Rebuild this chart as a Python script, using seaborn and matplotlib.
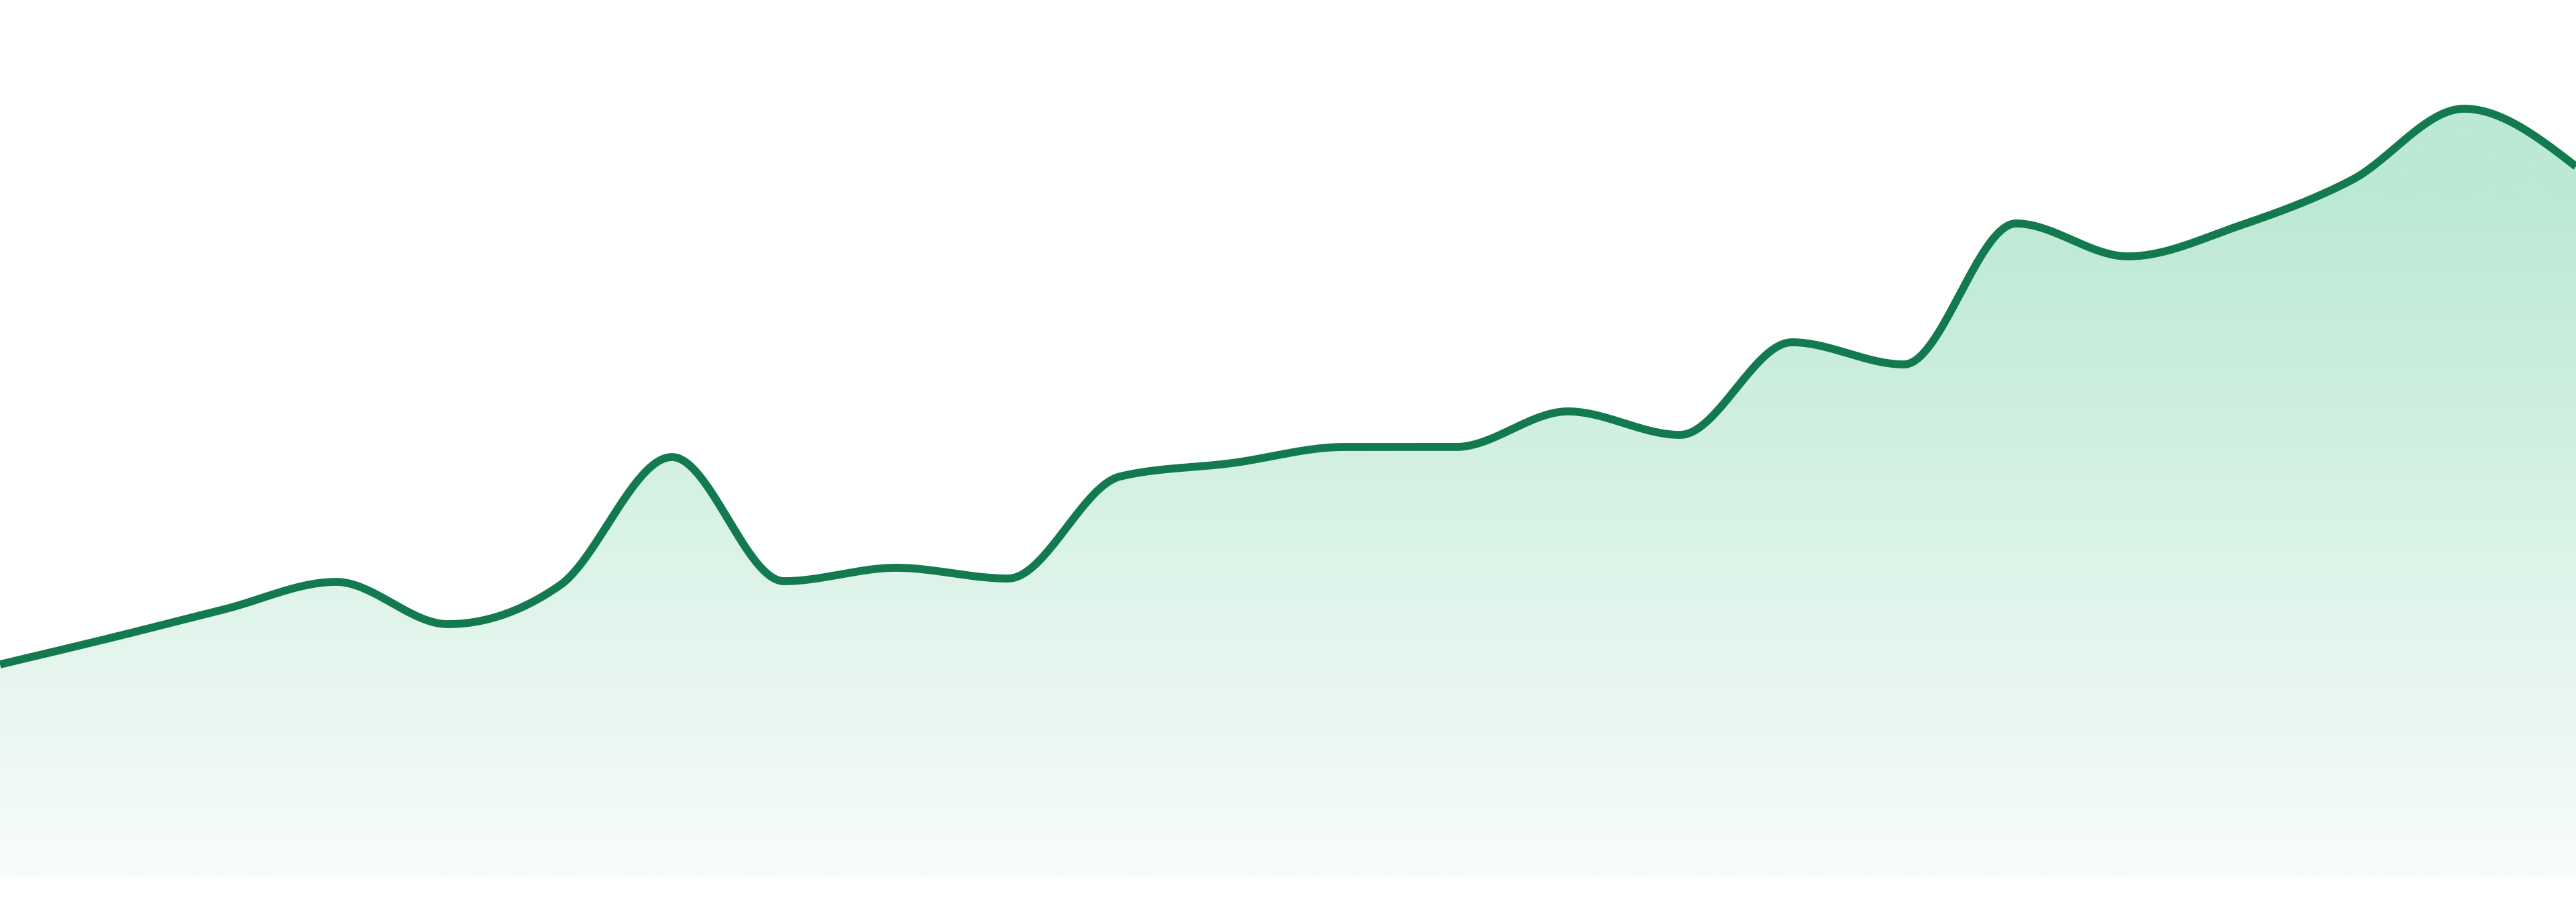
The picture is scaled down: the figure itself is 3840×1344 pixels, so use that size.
import matplotlib

matplotlib.use("Agg")
import matplotlib.pyplot as plt
import numpy as np
import pandas as pd
import seaborn as sns
from matplotlib.colors import LinearSegmentedColormap
from matplotlib.patches import Polygon

# data: one value per evenly spaced step
steps = list(range(24))
values = [
    31.5, 35.5, 39.7, 43.8, 37.5, 43.3, 62.4, 43.9, 45.9, 44.3, 59.5, 61.5,
    63.9, 63.9, 69.2, 65.7, 79.5, 76.2, 97.2, 92.3, 96.9, 103.7, 114.3, 105.7,
]

LINE_COLOR = "#127a4e"
FILL_TOP = "#bbe9d4"
FILL_BOTTOM = "#f8fcfa"
Y_MAX = 130.5
GRAD_TOP = 102


def monotone_curve(x, y, per_seg=40):
    """Monotone cubic smoothing between the points (like d3 curveMonotoneX)."""
    x = np.asarray(x, dtype=float)
    y = np.asarray(y, dtype=float)
    h = np.diff(x)
    s = np.diff(y) / h
    t = np.zeros_like(y)
    for i in range(1, len(y) - 1):
        p = (s[i - 1] * h[i] + s[i] * h[i - 1]) / (h[i - 1] + h[i])
        t[i] = (np.sign(s[i - 1]) + np.sign(s[i])) * min(
            abs(s[i - 1]), abs(s[i]), 0.5 * abs(p)
        )
    t[0] = (3 * s[0] - t[1]) / 2
    t[-1] = (3 * s[-1] - t[-2]) / 2

    xs, ys = [], []
    for i in range(len(y) - 1):
        u = np.linspace(0, 1, per_seg, endpoint=False)
        h00 = 2 * u**3 - 3 * u**2 + 1
        h10 = u**3 - 2 * u**2 + u
        h01 = -2 * u**3 + 3 * u**2
        h11 = u**3 - u**2
        xs.append(x[i] + u * h[i])
        ys.append(h00 * y[i] + h10 * h[i] * t[i] + h01 * y[i + 1] + h11 * h[i] * t[i + 1])
    xs.append([x[-1]])
    ys.append([y[-1]])
    return np.concatenate(xs), np.concatenate(ys)


sns.set_style("white")

fig = plt.figure(figsize=(38.4, 13.44), dpi=100)
ax = fig.add_axes([0, 39 / 1344, 1, 1305 / 1344])

cx, cy = monotone_curve(steps, values)
curve = pd.DataFrame({"step": cx, "value": cy})

# gradient fill under the curve
cmap = LinearSegmentedColormap.from_list("fade", [FILL_BOTTOM, FILL_TOP])
grad = np.clip(np.linspace(0, Y_MAX, 600) / GRAD_TOP, 0, 1).reshape(-1, 1)
img = ax.imshow(
    grad,
    cmap=cmap,
    vmin=0,
    vmax=1,
    origin="lower",
    aspect="auto",
    extent=[steps[0], steps[-1], 0, Y_MAX],
    zorder=1,
)
poly_pts = np.vstack(
    [np.column_stack([cx, cy]), [[steps[-1], 0], [steps[0], 0]]]
)
clip = Polygon(poly_pts, closed=True, facecolor="none", edgecolor="none")
ax.add_patch(clip)
img.set_clip_path(clip)

sns.lineplot(
    data=curve,
    x="step",
    y="value",
    ax=ax,
    color=LINE_COLOR,
    linewidth=8.5,
    sort=False,
    zorder=3,
)
ax.lines[-1].set_solid_capstyle("butt")

ax.set_xlim(steps[0], steps[-1])
ax.set_ylim(0, Y_MAX)
ax.axis("off")

fig.savefig("out.png", dpi=100, facecolor="white")
